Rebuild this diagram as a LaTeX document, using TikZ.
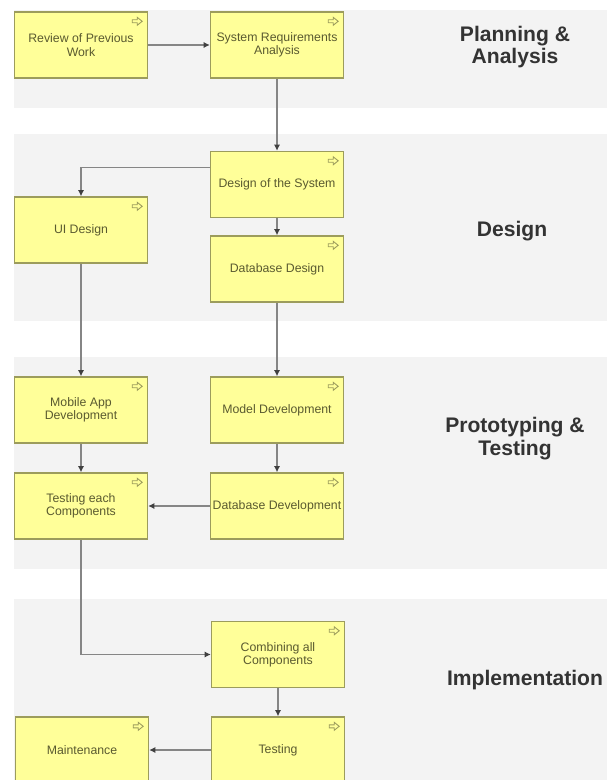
\documentclass[tikz,border=0pt]{standalone}
\usepackage{fontspec}
\setmainfont{Liberation Sans}
\usetikzlibrary{arrows.meta}
\definecolor{laneback}{HTML}{F3F3F3}
\definecolor{procfill}{HTML}{FFFF99}
\definecolor{procline}{HTML}{9C9C5C}
\definecolor{proctext}{HTML}{5A5A30}
\definecolor{flowline}{HTML}{858585}
\definecolor{lanetext}{HTML}{333333}
\newcommand{\procicon}[1]{%
  \draw[procline, fill=procfill, line width=0.5pt, shift={(#1.north east)}]
    (-16,8.5) -- (-11,8.5) -- (-11,6) -- (-6,10) -- (-11,14) -- (-11,11.5) -- (-16,11.5) -- cycle;
}

\begin{document}
\begin{tikzpicture}[x=0.02cm, y=-0.02cm,
    proc/.style={draw=procline, fill=procfill, line width=0.8pt, minimum width=2.66cm,
      minimum height=1.32cm, inner sep=0pt, align=center, text=proctext,
      font=\fontsize{7}{7.6}\selectfont},
    lane/.style={align=center, text=lanetext, font=\fontsize{12}{13}\selectfont\bfseries},
    flow/.style={draw=flowline, line width=0.8pt,
      -{Latex[length=3.5pt, width=3.5pt, color=black!75]}}]
    \useasboundingbox (0,0) rectangle (610,780);
    \clip (0,0) rectangle (610,780);
    \fill[white] (0,0) rectangle (610,780);
    \fill[laneback] (14,10) rectangle (607,108);
    \fill[laneback] (14,134) rectangle (607,321);
    \fill[laneback] (14,357) rectangle (607,569);
    \fill[laneback] (14,599) rectangle (607,790);

    \node[lane] (planning) at (515,47) {Planning \&\\Analysis};
    \node[lane] (design) at (512,231) {Design};
    \node[lane] (prototyping) at (515,439) {Prototyping \&\\Testing};
    \node[lane] (implementation) at (525,680) {Implementation};

    \node[proc] (rev) at (81,45) {Review of Previous\\Work};
    \node[proc] (sra) at (277,45) {System Requirements\\Analysis};
    \node[proc] (dos) at (277,184.5) {Design of the System};
    \node[proc] (uid) at (81,230) {UI Design};
    \node[proc] (dbd) at (277,269) {Database Design};
    \node[proc] (mad) at (81,410) {Mobile App\\Development};
    \node[proc] (mdv) at (277,410) {Model Development};
    \node[proc] (tec) at (81,506) {Testing each\\Components};
    \node[proc] (dbv) at (277,506) {Database Development};
    \node[proc] (cac) at (278,654.5) {Combining all\\Components};
    \node[proc] (mnt) at (82,750) {Maintenance};
    \node[proc] (tst) at (278,750) {Testing};

    \procicon{rev}
    \procicon{sra}
    \procicon{dos}
    \procicon{uid}
    \procicon{dbd}
    \procicon{mad}
    \procicon{mdv}
    \procicon{tec}
    \procicon{dbv}
    \procicon{cac}
    \procicon{mnt}
    \procicon{tst}

    \draw[flow] (rev) -- (sra);
    \draw[flow] (sra) -- (dos);
    \draw[flow] ([yshift=9.6pt]dos.west) -| (uid.north);
    \draw[flow] (dos) -- (dbd);
    \draw[flow] (uid) -- (mad);
    \draw[flow] (dbd) -- (mdv);
    \draw[flow] (mad) -- (tec);
    \draw[flow] (mdv) -- (dbv);
    \draw[flow] (dbv) -- (tec);
    \draw[flow] (tec.south) |- (cac.west);
    \draw[flow] (cac) -- (tst);
    \draw[flow] (tst) -- (mnt);
  \end{tikzpicture}
\end{document}
